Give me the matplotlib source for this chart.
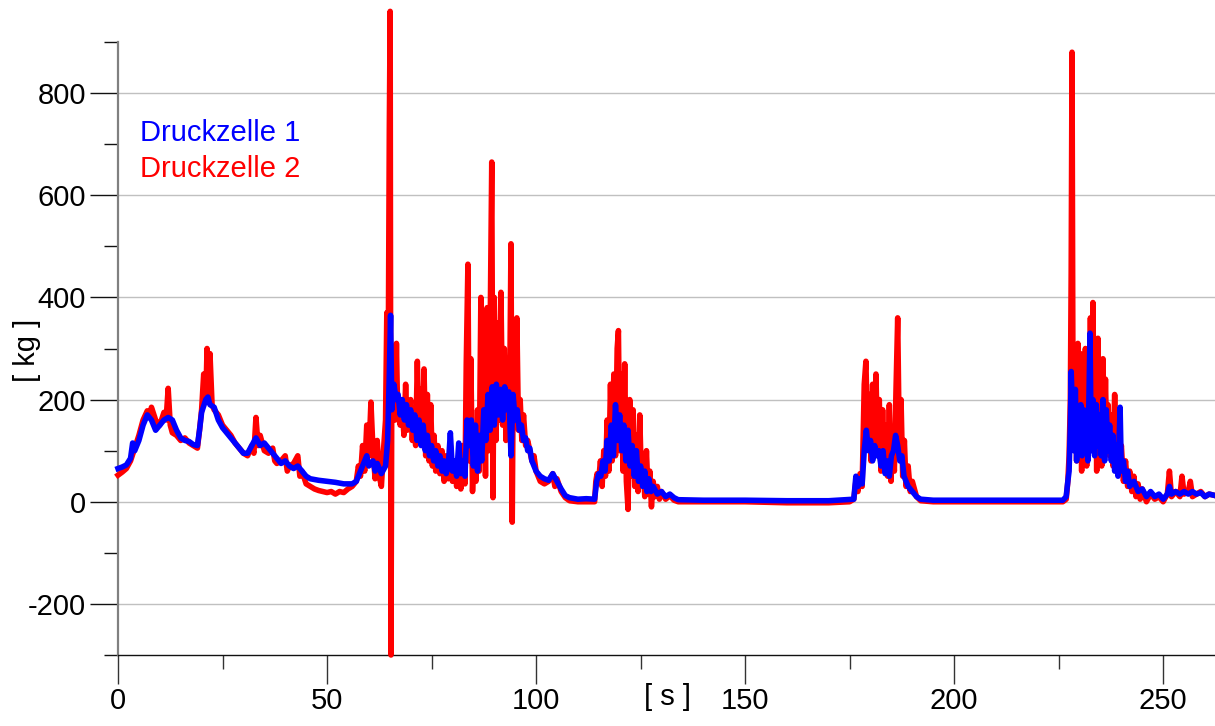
import numpy as np
import matplotlib
matplotlib.use('Agg')
import matplotlib.pyplot as plt

# time [s] and load [kg]
t_zelle1 = [0.0, 1.0, 2.0, 3.0, 3.5, 4.0, 5.0, 6.0, 7.0, 8.0, 9.0, 10.0, 11.0, 12.0, 13.0, 14.0, 15.0, 16.0, 17.0, 18.0,
            19.0, 19.5, 20.0, 21.0, 21.5, 22.0, 23.0, 24.0, 25.0, 26.0, 27.0, 28.0, 29.0, 30.0, 31.0, 32.0, 33.0, 34.0,
            35.0, 36.0, 37.0, 38.0, 39.0, 40.0, 41.0, 42.0, 43.0, 44.0, 45.0, 46.0, 48.0, 50.0, 52.0, 54.0, 56.0, 57.0,
            58.0, 59.0, 59.5, 60.0, 61.0, 61.5, 62.0, 63.0, 64.0, 64.5, 64.9, 65.2, 65.5, 66.0, 66.5, 67.0, 67.5, 68.0,
            68.5, 69.0, 69.5, 70.0, 70.5, 71.0, 71.5, 72.0, 72.5, 73.0, 73.5, 74.0, 74.5, 75.0, 75.5, 76.0, 76.5, 77.0,
            77.5, 78.0, 78.5, 79.0, 79.5, 80.0, 80.5, 81.0, 81.5, 82.0, 82.5, 83.0, 83.5, 84.0, 84.5, 85.0, 85.5, 86.0,
            86.5, 87.0, 87.5, 88.0, 88.5, 89.0, 89.5, 90.0, 90.5, 91.0, 91.5, 92.0, 92.5, 93.0, 93.5, 94.0, 94.5, 95.0,
            95.5, 96.0, 96.5, 97.0, 97.5, 98.0, 98.5, 99.0, 100.0, 101.0, 102.0, 103.0, 104.0, 105.0, 106.0, 107.0,
            108.0, 110.0, 112.0, 114.0, 114.5, 115.0, 115.5, 116.0, 116.5, 117.0, 117.5, 118.0, 118.5, 119.0, 119.5,
            120.0, 120.5, 121.0, 121.5, 122.0, 122.5, 123.0, 123.5, 124.0, 124.5, 125.0, 125.5, 126.0, 126.5, 127.0,
            127.5, 128.0, 129.0, 130.0, 131.0, 132.0, 133.0, 134.0, 140.0, 150.0, 160.0, 170.0, 176.0, 176.5, 177.0,
            177.5, 178.0, 178.5, 179.0, 179.5, 180.0, 180.5, 181.0, 181.5, 182.0, 182.5, 183.0, 183.5, 184.0, 184.5,
            185.0, 185.5, 186.0, 186.5, 187.0, 187.5, 188.0, 188.5, 189.0, 190.0, 191.0, 192.0, 195.0, 210.0, 226.0,
            226.8, 227.2, 227.5, 227.8, 228.0, 228.3, 228.6, 229.0, 229.3, 229.6, 230.0, 230.3, 230.6, 231.0, 231.3,
            231.6, 232.0, 232.5, 232.8, 233.2, 233.6, 234.0, 234.4, 234.8, 235.2, 235.6, 236.0, 236.4, 236.8, 237.2,
            237.6, 238.0, 238.4, 238.8, 239.2, 239.7, 240.0, 240.5, 241.0, 241.5, 242.0, 243.0, 244.0, 245.0, 246.0,
            247.0, 248.0, 249.0, 250.0, 251.0, 251.5, 252.0, 253.0, 254.0, 255.0, 256.0, 257.0, 258.0, 259.0, 260.0,
            261.0, 262.5]
kg_zelle1 = [65, 68, 72, 85, 115, 100, 120, 150, 170, 160, 140, 150, 160, 165, 160, 140, 125, 120, 118, 112,
             110, 140, 175, 200, 205, 190, 185, 160, 145, 135, 125, 115, 105, 95, 95, 110, 125, 110,
             115, 105, 95, 85, 75, 80, 70, 65, 70, 60, 50, 45, 42, 40, 38, 35, 35, 40,
             60, 80, 90, 70, 80, 60, 75, 55, 70, 120, 250, 365, 180, 230, 200, 210, 170, 200,
             160, 190, 150, 180, 140, 170, 120, 160, 110, 150, 100, 130, 90, 110, 80, 100, 70, 90,
             60, 80, 55, 70, 135, 60, 80, 50, 115, 55, 80, 50, 160, 110, 160, 70, 150, 60,
             130, 80, 180, 120, 210, 140, 225, 150, 230, 170, 220, 160, 225, 180, 215, 90, 210, 160,
             180, 140, 150, 120, 125, 100, 105, 80, 60, 50, 45, 42, 55, 40, 25, 12,
             8, 5, 6, 5, 40, 55, 50, 80, 60, 120, 80, 150, 90, 190, 120,
             170, 100, 150, 80, 140, 70, 110, 50, 100, 40, 70, 30, 60, 20, 45,
             20, 30, 15, 20, 10, 15, 8, 4, 3, 3, 2, 2, 5, 50, 30,
             45, 35, 100, 140, 100, 120, 80, 110, 90, 100, 70, 100, 55, 80, 50,
             90, 100, 130, 110, 80, 90, 50, 40, 30, 20, 10, 5, 3, 3, 3,
             10, 40, 60, 150, 255, 180, 100, 220, 80, 180, 110, 190, 90, 180, 100,
             160, 80, 330, 100, 200, 90, 190, 110, 170, 90, 200, 80, 180, 100, 150,
             80, 130, 60, 110, 50, 185, 60, 80, 40, 60, 30, 40, 20, 25, 10,
             20, 10, 15, 5, 15, 30, 15, 20, 15, 20, 15, 20, 15, 18, 10,
             15, 12]

t_zelle2 = [0.0, 1.0, 2.0, 3.0, 4.0, 5.0, 6.0, 7.0, 7.5, 8.0, 9.0, 10.0, 11.0, 11.5, 12.0, 12.5, 13.0, 14.0, 15.0,
            16.0, 17.0, 18.0, 19.0, 19.5, 20.0, 20.5, 21.0, 21.3, 21.7, 22.0, 22.5, 23.0, 24.0, 25.0, 26.0, 27.0,
            28.0, 29.0, 30.0, 31.0, 32.0, 32.5, 33.0, 33.5, 34.0, 35.0, 36.0, 37.0, 37.5, 38.0, 39.0, 40.0, 40.5,
            41.0, 42.0, 43.0, 43.5, 44.0, 45.0, 46.0, 47.0, 48.0, 49.0, 50.0, 51.0, 52.0, 53.0, 54.0, 55.0, 56.0,
            57.0, 57.5, 58.0, 58.5, 59.0, 59.5, 60.0, 60.5, 61.0, 61.5, 62.0, 62.5, 63.0, 63.5, 64.0, 64.3, 64.6,
            64.9, 65.1, 65.3, 65.5, 65.8, 66.0, 66.3, 66.6, 66.9, 67.2, 67.5, 68.0, 68.4, 68.8, 69.2, 69.6, 70.0,
            70.4, 70.8, 71.2, 71.6, 72.0, 72.4, 72.8, 73.2, 73.6, 74.0, 74.4, 74.8, 75.2, 75.6, 76.0, 76.5, 77.0,
            77.5, 78.0, 78.5, 79.0, 79.5, 80.0, 80.5, 81.0, 81.5, 82.0, 82.5, 83.0, 83.3, 83.7, 84.0, 84.4, 84.8,
            85.2, 85.6, 86.0, 86.4, 86.8, 87.1, 87.5, 87.9, 88.3, 88.7, 89.0, 89.4, 89.7, 90.0, 90.4, 90.8, 91.2,
            91.6, 92.0, 92.4, 92.8, 93.2, 93.6, 94.0, 94.3, 94.6, 95.0, 95.4, 95.8, 96.2, 96.6, 97.0, 97.5, 98.0,
            98.5, 99.0, 99.5, 100.0, 101.0, 102.0, 103.0, 104.0, 104.5, 105.0, 106.0, 107.0, 108.0, 110.0, 112.0,
            114.0, 114.3, 114.6, 115.0, 115.4, 115.8, 116.2, 116.6, 117.0, 117.4, 117.8, 118.2, 118.6, 119.0,
            119.4, 119.7, 120.0, 120.4, 120.8, 121.2, 121.6, 122.0, 122.4, 122.8, 123.2, 123.6, 124.0, 124.4,
            124.8, 125.2, 125.6, 126.0, 126.4, 126.8, 127.2, 127.6, 128.0, 128.5, 129.0, 129.5, 130.0, 131.0,
            132.0, 133.0, 134.0, 140.0, 150.0, 160.0, 170.0, 175.0, 176.0, 176.5, 177.0, 177.5, 178.0, 178.5,
            178.9, 179.3, 179.7, 180.1, 180.5, 180.9, 181.3, 181.7, 182.1, 182.5, 182.9, 183.3, 183.7, 184.1,
            184.5, 184.9, 185.3, 185.7, 186.1, 186.5, 186.9, 187.3, 187.7, 188.1, 188.5, 189.0, 189.5, 190.0,
            191.0, 192.0, 195.0, 210.0, 226.0, 226.8, 227.2, 227.5, 227.8, 228.0, 228.2, 228.4, 228.7, 229.0,
            229.3, 229.6, 229.9, 230.2, 230.5, 230.8, 231.1, 231.4, 231.7, 232.0, 232.3, 232.6, 232.9, 233.2,
            233.5, 233.8, 234.1, 234.4, 234.7, 235.0, 235.3, 235.6, 235.9, 236.2, 236.5, 236.8, 237.2, 237.6,
            238.0, 238.4, 238.8, 239.2, 239.6, 240.0, 240.5, 241.0, 241.5, 242.0, 242.5, 243.0, 243.5, 244.0,
            244.5, 245.0, 246.0, 247.0, 248.0, 249.0, 250.0, 251.0, 251.5, 252.0, 253.0, 254.0, 254.5, 255.0,
            256.0, 256.5, 257.0, 258.0, 259.0, 260.0, 261.0, 262.5]
kg_zelle2 = [52, 58, 65, 80, 105, 130, 160, 178, 165, 185, 160, 150, 175, 160, 222, 150, 135, 130, 120,
             125, 115, 110, 105, 140, 180, 250, 200, 300, 210, 290, 190, 180, 170, 150, 140, 130,
             115, 105, 95, 90, 110, 95, 165, 110, 130, 100, 95, 105, 80, 75, 80, 90, 60,
             70, 75, 90, 50, 60, 35, 30, 25, 22, 20, 18, 20, 15, 20, 18, 25, 30,
             40, 70, 50, 110, 60, 150, 90, 195, 100, 45, 120, 50, 30, 100, 160, 370, 200,
             730, 960, -300, 250, 180, 290, 160, 310, 170, 200, 150, 180, 130, 230, 140, 160, 200,
             120, 180, 110, 275, 130, 220, 110, 260, 90, 210, 80, 190, 70, 130, 60, 110, 55,
             100, 40, 90, 45, 110, 40, 80, 30, 70, 25, 110, 35, 270, 465, 80, 280, 20,
             120, 40, 180, 60, 400, 150, 300, 50, 380, 100, 320, 665, 8, 400, 120, 350, 160,
             410, 150, 300, 120, 280, 130, 505, -40, 320, 180, 360, 140, 200, 120, 170, 110, 120,
             100, 80, 90, 60, 40, 35, 40, 55, 30, 45, 20, 8, 2, 0, 0,
             0, 40, 55, 45, 80, 30, 100, 50, 160, 60, 230, 80, 250, 90,
             300, 335, 100, 250, 60, 270, 40, -15, 200, 50, 180, 30, 130, 20,
             170, 40, 80, 10, 100, 15, 60, -10, 40, 10, 30, 5, 20, 5,
             12, 3, 0, 0, 0, -2, -2, 0, 5, 40, 20, 55, 30, 230,
             275, 120, 210, 80, 230, 90, 250, 100, 200, 60, 180, 70, 150, 50,
             190, 40, 140, 60, 220, 360, 100, 200, 50, 120, 30, 70, 20, 40,
             10, 2, 0, 0, 0, 5, 40, 90, 200, 450, 880, 300, 120, 290,
             80, 310, 90, 290, 60, 250, 100, 300, 70, 280, 100, 360, 110, 390,
             150, 300, 60, 320, 120, 250, 70, 280, 120, 240, 110, 190, 90, 170,
             70, 210, 60, 140, 60, 110, 40, 80, 30, 60, 20, 50, 10, 35,
             5, 25, 0, 15, 5, 10, 0, 15, 60, 10, 20, 10, 50, 15,
             20, 40, 10, 15, 20, 10, 15, 12]

x_major = [0, 50, 100, 150, 200, 250]
x_minor = [25, 75, 125, 175, 225]
y_major = [-200, 0, 200, 400, 600, 800]
y_minor = [-300, -100, 100, 300, 500, 700, 900]


def main():
    plt.rcParams['font.family'] = ['Liberation Sans', 'DejaVu Sans']
    plt.rcParams['axes.unicode_minus'] = False

    fig = plt.figure(figsize=(12.15, 7.26), dpi=100)
    ax = fig.add_axes([118 / 1215, 71 / 726, 1097 / 1215, 613 / 726])

    ax.plot(t_zelle2, kg_zelle2, color='#ff0000', lw=4, clip_on=False, zorder=3)
    ax.plot(t_zelle1, kg_zelle1, color='#0000ff', lw=4, clip_on=False, zorder=4)

    ax.set_xlim(0, 262.4)
    ax.set_ylim(-300, 900)
    ax.set_xticks(x_major)
    ax.set_xticks(x_minor, minor=True)
    ax.set_yticks(y_major)
    ax.set_yticks(y_minor, minor=True)
    ax.tick_params(labelsize=21)
    ax.tick_params(axis='x', which='major', length=21, width=1, color='#333333', pad=2)
    ax.tick_params(axis='x', which='minor', length=10, width=1, color='#333333')
    ax.tick_params(axis='y', which='major', length=20, width=1, color='#111111', pad=3)
    ax.tick_params(axis='y', which='minor', length=10, width=1, color='#111111')

    ax.grid(axis='y', which='major', color='#c0c0c0', lw=1.0)
    ax.set_axisbelow(True)

    for side in ['top', 'right']:
        ax.spines[side].set_visible(False)
    ax.spines['left'].set_color('#808080')
    ax.spines['left'].set_linewidth(1.6)
    ax.spines['bottom'].set_color('#111111')
    ax.spines['bottom'].set_linewidth(1.0)

    ax.text(5.3, 706, 'Druckzelle 1', color='#0000ff', fontsize=21, va='baseline')
    ax.text(5.3, 636, 'Druckzelle 2', color='#ff0000', fontsize=21, va='baseline')

    fig.text(27 / 1215, 1 - 350 / 726, '[ kg ]', rotation=90, ha='center', va='center', fontsize=21)
    fig.text(668 / 1215, 1 - 697 / 726, '[ s ]', ha='center', va='center', fontsize=21)

    fig.savefig('out.png', dpi=100)


if __name__ == '__main__':
    main()
